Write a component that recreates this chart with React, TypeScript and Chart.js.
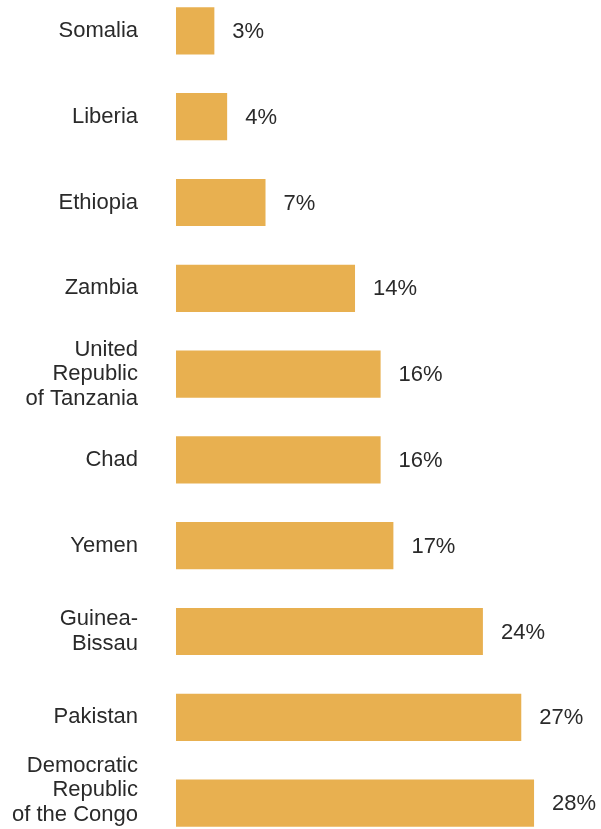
import React, { useEffect, useRef } from "react";
import { Chart, registerables } from "chart.js";

Chart.register(...registerables);

const categories: string[][] = [
  ["Somalia"],
  ["Liberia"],
  ["Ethiopia"],
  ["Zambia"],
  ["United", "Republic", "of Tanzania"],
  ["Chad"],
  ["Yemen"],
  ["Guinea-", "Bissau"],
  ["Pakistan"],
  ["Democratic", "Republic", "of the Congo"],
];
const values: number[] = [3, 4, 7, 14, 16, 16, 17, 24, 27, 28];

const BAR_COLOR = "#E8B050";
const TEXT_COLOR = "#2a2a2a";
const FONT_FAMILY = "'Liberation Sans', Arial, sans-serif";
const FONT_SIZE = 22;
const LINE_H = 24.5;

const labelsPlugin = {
  id: "labelsPlugin",
  afterDatasetsDraw(chart: any) {
    const ctx = chart.ctx;
    const meta = chart.getDatasetMeta(0);
    const labelRight = chart.chartArea.left - 38;
    ctx.save();
    ctx.font = `${FONT_SIZE}px ${FONT_FAMILY}`;
    ctx.fillStyle = TEXT_COLOR;
    ctx.textBaseline = "middle";
    meta.data.forEach((el: any, i: number) => {
      // value label
      ctx.textAlign = "left";
      ctx.fillText(values[i] + "%", el.x + 18, el.y + 1);
      // category label, kept inside the visible area
      const lines = categories[i];
      const n = lines.length;
      let cy = el.y;
      const limit = chart.height - 19;
      if (cy + (n * LINE_H) / 2 > limit) cy = limit - (n * LINE_H) / 2;
      ctx.textAlign = "right";
      lines.forEach((line, j) => {
        ctx.fillText(line, labelRight, cy + (j - (n - 1) / 2) * LINE_H);
      });
    });
    ctx.restore();
  },
};

export default function App() {
  const ref = useRef<HTMLCanvasElement | null>(null);
  useEffect(() => {
    if (!ref.current) return;
    const chart = new Chart(ref.current, {
      type: "bar",
      data: {
        labels: categories as any,
        datasets: [
          {
            data: values,
            backgroundColor: BAR_COLOR,
            borderWidth: 0,
            barPercentage: 0.55,
            categoryPercentage: 1,
          },
        ],
      },
      options: {
        indexAxis: "y",
        animation: false,
        responsive: true,
        maintainAspectRatio: false,
        layout: { padding: { left: 0, right: 3, top: 0, bottom: 0 } },
        plugins: {
          legend: { display: false },
          tooltip: { enabled: false },
        },
        scales: {
          x: {
            display: false,
            min: 0,
            max: 33,
          },
          y: {
            grid: { display: false, drawTicks: false },
            border: { display: false },
            afterFit: (scale: any) => {
              scale.width = 176;
              scale.paddingTop = 0;
              scale.paddingBottom = 0;
            },
            ticks: { display: false },
          },
        },
      },
      plugins: [labelsPlugin],
    });
    return () => chart.destroy();
  }, []);
  return (
    <div
      style={{
        position: "absolute",
        left: 0,
        top: -12,
        width: 601,
        height: 858,
        background: "#ffffff",
      }}
    >
      <canvas ref={ref} />
    </div>
  );
}
